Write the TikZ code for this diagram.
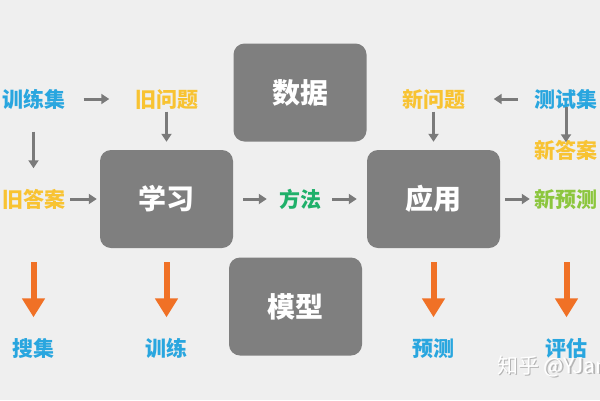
\documentclass[tikz,border=0pt]{standalone}
\usepackage{fontspec}
\setmainfont{Noto Sans CJK SC}[BoldFont={Noto Sans CJK SC Black}]
\usetikzlibrary{arrows.meta}
\definecolor{bg}{HTML}{EFEFEF}
\definecolor{boxgray}{HTML}{7F7F7F}
\definecolor{arrgray}{HTML}{7A7A7A}
\definecolor{cblue}{HTML}{29A6DF}
\definecolor{cyellow}{HTML}{F8C332}
\definecolor{cgreen}{HTML}{1FB06A}
\definecolor{clime}{HTML}{8CC63E}
\definecolor{corange}{HTML}{F07126}
\definecolor{wmshadow}{HTML}{B5B5B5}
\newcommand\lowered[1]{\raisebox{-5pt}{#1}}
\begin{document}
\begin{tikzpicture}[x=1pt,y=-1pt,
  bigbox/.style={fill=boxgray, rounded corners=11pt, minimum width=133pt, minimum height=98pt,
    inner sep=0pt, text=white, font=\bfseries\fontsize{28}{28}\selectfont},
  lbl/.style={inner sep=0pt, text height=0.88em, text depth=0.12em,
    font=\bfseries\fontsize{21}{21}\selectfont},
  garrow/.style={draw=arrgray, line width=3pt, -{Triangle[length=8pt,width=10pt]}},
  oarrow/.style={draw=corange, line width=6pt, -{Triangle[length=19pt,width=22pt]}},
  wm/.style={inner sep=0pt, anchor=west, font=\fontsize{21}{21}\selectfont}
]
\fill[bg] (0,0) rectangle (600,400);
\useasboundingbox (0,0) rectangle (600,400);

% big boxes
\node[bigbox] (data)  at (300,92.5)  {数据};
\node[bigbox] (learn) at (166.5,199) {学习};
\node[bigbox] (apply) at (433.5,199) {应用};
\node[bigbox] (model) at (295.5,306.5) {模型};

% labels
\node[lbl, text=cblue]   (tr) at (33.5,99)  {\lowered{训练集}};
\node[lbl, text=cyellow] (jw) at (166.5,99) {\lowered{旧问题}};
\node[lbl, text=cyellow] (jd) at (33.5,199) {\lowered{旧答案}};
\node[lbl, text=cgreen]  (ff) at (300,199)  {\lowered{方法}};
\node[lbl, text=cyellow] (xw) at (433.5,99) {\lowered{新问题}};
\node[lbl, text=cblue]   (cs) at (566,99)   {\lowered{测试集}};
\node[lbl, text=cyellow] (xd) at (566,150)  {\lowered{新答案}};
\node[lbl, text=clime]   (xy) at (566,199)  {\lowered{新预测}};

% gray arrows
\draw[garrow, shorten <=18.5pt, shorten >=25.5pt] (tr.east) -- (jw.west);
\draw[garrow, shorten <=27.5pt, shorten >=25.5pt] (tr.south) -- (jd.north);
\draw[garrow, shorten <=5pt, shorten >=3pt] (jd.east) -- (learn.west);
\draw[garrow, shorten <=7.5pt, shorten >=8pt] (jw.south) -- (learn.north);
\draw[garrow, shorten <=10pt, shorten >=12pt] (learn.east) -- (ff.west);
\draw[garrow, shorten <=11pt, shorten >=10pt] (ff.east) -- (apply.west);
\draw[garrow, shorten <=16.5pt, shorten >=28.5pt] (cs.west) -- (xw.east);
\draw[garrow, shorten <=2.5pt, shorten >=2.5pt] (cs.south) -- (xd.north);
\draw[garrow, shorten <=7.5pt, shorten >=8pt] (xw.south) -- (apply.north);
\draw[garrow, shorten <=5pt, shorten >=4.5pt] (apply.east) -- (xy.west);

% bottom row
\node[lbl, text=cblue] (sj) at (33.5,348)  {\lowered{搜集}};
\node[lbl, text=cblue] (xl) at (166.5,348) {\lowered{训练}};
\node[lbl, text=cblue] (yc) at (433.5,348) {\lowered{预测}};
\node[lbl, text=cblue] (pg) at (566.5,348) {\lowered{评估}};
\coordinate (sjtop) at (33.5,262);
\coordinate (xltop) at (166.5,262);
\coordinate (yctop) at (433.5,262);
\coordinate (pgtop) at (566.5,262);
\draw[oarrow, shorten >=25.5pt] (sjtop) -- (sj.north);
\draw[oarrow, shorten >=25.5pt] (xltop) -- (xl.north);
\draw[oarrow, shorten >=25.5pt] (yctop) -- (yc.north);
\draw[oarrow, shorten >=25.5pt] (pgtop) -- (pg.north);

% watermark
\node[wm, text=wmshadow] (wms) at (498.5,368.5) {知乎 @YJango};
\node[wm, text=white]    (wmt) at (497,367)     {知乎 @YJango};
\end{tikzpicture}
\end{document}
